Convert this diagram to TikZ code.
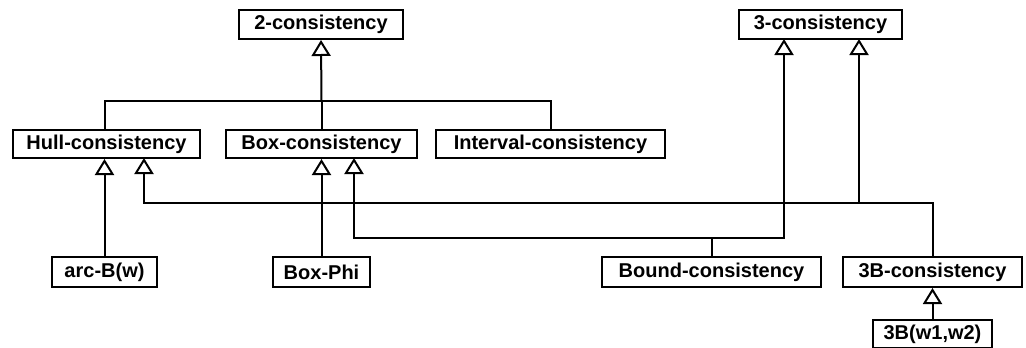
\documentclass[tikz,border=0pt]{standalone}
\usepackage{fontspec}
\setmainfont{Liberation Sans}
\usetikzlibrary{arrows.meta}
\begin{document}
\begin{tikzpicture}[x=1pt,y=-1pt,
  cls/.style={draw,line width=2pt,fill=white,inner sep=0pt,minimum height=29pt,
    font=\fontsize{20}{24}\selectfont\bfseries},
  conn/.style={line width=2pt},
  gen/.style={line width=2pt,-{Triangle[open,width=19pt,length=16pt]}}]
\useasboundingbox (0,0) rectangle (1026,348);
% nodes
\node[cls,minimum width=164pt] (c2) at (321,24.5) {2-consistency};
\node[cls,minimum width=163pt] (c3) at (820.5,24.5) {3-consistency};
\node[cls,minimum width=187pt,minimum height=28pt] (hull) at (106.5,144) {Hull-consistency};
\node[cls,minimum width=191pt,minimum height=28pt] (box) at (321.5,144) {Box-consistency};
\node[cls,minimum width=229pt,minimum height=28pt] (interval) at (550.5,144) {Interval-consistency};
\node[cls,minimum width=105pt,minimum height=30pt] (arcb) at (104.5,272) {arc-B(w)};
\node[cls,minimum width=97pt,minimum height=30pt] (boxphi) at (321.5,272) {Box-Phi};
\node[cls,minimum width=219pt,minimum height=30pt] (bound) at (711.5,272) {Bound-consistency};
\node[cls,minimum width=179pt,minimum height=30pt] (b3) at (932.5,272) {3B-consistency};
\node[cls,minimum width=119pt,minimum height=28pt] (b3w) at (932.5,334) {3B(w1,w2)};
% junctions
\coordinate (j2) at (321.5,100.5);
\coordinate (jb) at (711.5,237.7);
\coordinate (jh) at (932.5,202.7);
\coordinate (hullB) at (144,158);
\coordinate (boxB) at (354,158);
\coordinate (c3A) at (784,39);
\coordinate (c3B) at (859,39);
% 2-consistency hierarchy
\draw[conn] (arcb.north |- hull.north) |- (j2);
\draw[conn] (interval.north) |- (j2);
\draw[conn] (box.north) -- (j2);
\draw[gen] (j2) -- (c2.south);
% lower generalizations
\draw[gen] (arcb.north) -- (arcb.north |- hull.south);
\draw[gen] (boxphi.north) -- (box.south);
\draw[gen] (bound.north) -- (jb) -| (boxB);
\draw[gen] (jb) -| (c3A);
\draw[gen] (b3.north) -- (jh) -| (hullB);
\draw[gen] (jh) -| (c3B);
\draw[gen] (b3w.north) -- (b3.south);
\end{tikzpicture}
\end{document}
